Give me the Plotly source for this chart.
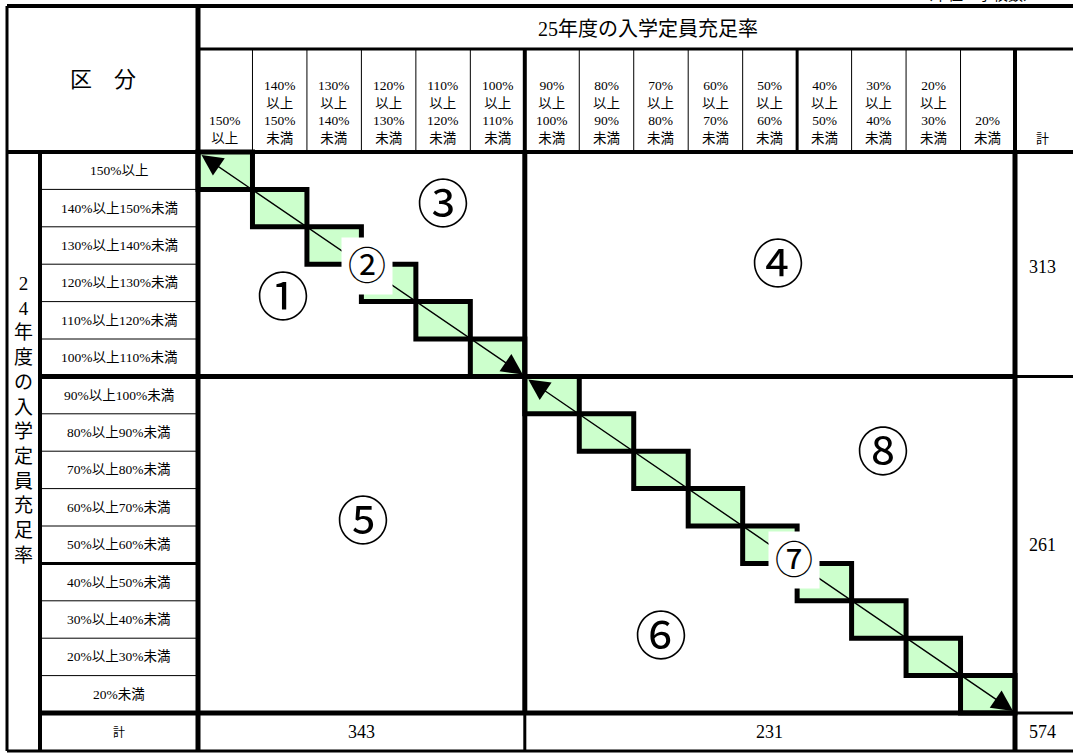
import plotly.graph_objects as go

# ---------------- data ----------------
title_25 = "25年度の入学定員充足率"
title_24 = "24年度の入学定員充足率"
header_kubun = "区　分"
unit_note = "（単位：学校数）"
total_label = "計"

col_labels = [
    "150%<br>以上",
    "140%<br>以上<br>150%<br>未満",
    "130%<br>以上<br>140%<br>未満",
    "120%<br>以上<br>130%<br>未満",
    "110%<br>以上<br>120%<br>未満",
    "100%<br>以上<br>110%<br>未満",
    "90%<br>以上<br>100%<br>未満",
    "80%<br>以上<br>90%<br>未満",
    "70%<br>以上<br>80%<br>未満",
    "60%<br>以上<br>70%<br>未満",
    "50%<br>以上<br>60%<br>未満",
    "40%<br>以上<br>50%<br>未満",
    "30%<br>以上<br>40%<br>未満",
    "20%<br>以上<br>30%<br>未満",
    "20%<br>未満",
]
row_labels = [
    "150%以上", "140%以上150%未満", "130%以上140%未満", "120%以上130%未満",
    "110%以上120%未満", "100%以上110%未満", "90%以上100%未満", "80%以上90%未満",
    "70%以上80%未満", "60%以上70%未満", "50%以上60%未満", "40%以上50%未満",
    "30%以上40%未満", "20%以上30%未満", "20%未満",
]
row_totals = [313, 261]       # 24年度 100%以上 / 100%未満
col_totals = [343, 231]       # 25年度 100%以上 / 100%未満
grand_total = 574
split_index = 6               # 100%以上 groups = first 6 categories

region_labels = ["①", "②", "③", "④", "⑤", "⑥", "⑦", "⑧"]
# positions in (column units, row units)
region_pos = [(1.56, 3.9), (3.1, 3.05), (4.5, 1.42), (10.65, 3.02),
              (3.03, 9.9), (8.5, 12.97), (10.95, 10.9), (12.58, 8.05)]
region_small = [False, True, False, False, False, False, True, False]

# ---------------- geometry ----------------
W, H = 1073, 754
LEFT, TOP, RIGHT, BOTTOM = 7, 6, 1073, 751
VCOL = 40          # right edge of vertical-title column
X0, X1 = 198, 1015  # grid columns
Y0, Y1 = 152, 713   # grid rows
YH = 49            # header split
n = len(col_labels)
CW = (X1 - X0) / n
RH = (Y1 - Y0) / len(row_labels)


def cx(i):
    return X0 + i * CW


def ry(j):
    return Y0 + j * RH


SERIF = "Liberation Serif, Noto Sans CJK JP, serif"
GREEN = "#CCFFCC"

shapes = []


def line(x0, y0, x1, y1, w):
    shapes.append(dict(type="line", x0=x0, y0=y0, x1=x1, y1=y1,
                       line=dict(color="black", width=w)))


# green diagonal cells
for i in range(n):
    shapes.append(dict(type="rect", x0=cx(i), x1=cx(i + 1), y0=ry(i), y1=ry(i + 1),
                       fillcolor=GREEN, line=dict(width=0)))

# thin grid lines: header column dividers and row label dividers
for i in range(1, n):
    line(cx(i), YH, cx(i), Y0, 1)
for j in range(1, len(row_labels)):
    line(VCOL, ry(j), X0, ry(j), 1)
line(VCOL, ry(11), X0, ry(11), 3)
line(cx(11), YH, cx(11), Y0, 3)

# outer frame & headers
line(LEFT, TOP, RIGHT, TOP, 4)
line(LEFT, TOP, LEFT, BOTTOM, 3)
line(LEFT, BOTTOM, RIGHT, BOTTOM, 3)
line(X0, YH, RIGHT, YH, 3)
line(LEFT, Y0, RIGHT, Y0, 4)
line(VCOL, Y0, VCOL, BOTTOM, 4)

# block boundaries
line(X0, TOP, X0, BOTTOM, 5)
line(cx(split_index), YH, cx(split_index), Y0, 4)
line(cx(split_index), Y0, cx(split_index), Y1, 5)
line(cx(split_index), Y1, cx(split_index), BOTTOM, 3)
line(X1, YH, X1, Y0, 4)
line(X1, Y0, X1, BOTTOM, 5)
line(VCOL, ry(split_index), X1, ry(split_index), 5)
line(X1, ry(split_index), RIGHT, ry(split_index), 3)
line(VCOL, Y1, X1, Y1, 5)
line(X1, Y1, RIGHT, Y1, 3)

# staircase outlines around diagonal cells
for i in range(n):
    shapes.append(dict(type="rect", x0=cx(i), x1=cx(i + 1), y0=ry(i), y1=ry(i + 1),
                       line=dict(color="black", width=5)))

annotations = []


def text(x, y, t, size, xanchor="center", yanchor="middle", family=SERIF, **kw):
    annotations.append(dict(x=x, y=y, xref="x", yref="y", text=t, showarrow=False,
                            xanchor=xanchor, yanchor=yanchor,
                            font=dict(family=family, size=size, color="black"), **kw))


# arrows along the diagonal of each block
for (a, b) in [(0, split_index), (split_index, n)]:
    annotations.append(dict(x=cx(b) - 2, y=ry(b) - 2, ax=cx(a) + 2, ay=ry(a) + 2,
                            xref="x", yref="y", axref="x", ayref="y", text="",
                            showarrow=True, arrowhead=2, startarrowhead=2,
                            arrowside="end+start", arrowsize=3, startarrowsize=3,
                            arrowwidth=1.4, arrowcolor="black"))

# headers
text(978, 5, unit_note, 15, yanchor="bottom")
text((LEFT + X0) / 2, (TOP + Y0) / 2, header_kubun, 22)
text(648, (TOP + YH) / 2 + 1, title_25, 20)
for i, lab in enumerate(col_labels):
    text(cx(i + 0.5), Y0 - 4, lab, 13.5, yanchor="bottom")
text((X1 + RIGHT) / 2 - 2, Y0 - 4, total_label, 13, yanchor="bottom")

# row labels
for j, lab in enumerate(row_labels):
    text((VCOL + X0) / 2, ry(j + 0.5), lab, 13.5)
text((VCOL + X0) / 2, (Y1 + BOTTOM) / 2, total_label, 12)

# vertical title
vt = "<br>".join(list(title_24))
text((LEFT + VCOL) / 2, 419, vt, 19)

# totals
tot_x = (X1 + RIGHT) / 2 - 2
text(tot_x, (Y0 + ry(split_index)) / 2 + 3, str(row_totals[0]), 18)
text(tot_x, (ry(split_index) + Y1) / 2, str(row_totals[1]), 18)
text((X0 + cx(split_index)) / 2, (Y1 + BOTTOM) / 2, str(col_totals[0]), 18)
text((cx(split_index) + X1) / 2, (Y1 + BOTTOM) / 2, str(col_totals[1]), 18)
text(tot_x, (Y1 + BOTTOM) / 2, str(grand_total), 18)

# region labels
CIRC = "DejaVu Serif, Noto Sans CJK JP, serif"
for lab, (pc, pr), small in zip(region_labels, region_pos, region_small):
    if small:
        text(cx(pc), ry(pr), lab, 38, family=CIRC, bgcolor="white", borderpad=6)
    else:
        text(cx(pc), ry(pr), lab, 52, family=CIRC)

fig = go.Figure()
fig.update_layout(
    width=W, height=H, margin=dict(l=0, r=0, t=0, b=0),
    paper_bgcolor="white", plot_bgcolor="white",
    xaxis=dict(range=[0, W], visible=False, fixedrange=True),
    yaxis=dict(range=[H, 0], visible=False, fixedrange=True),
    shapes=shapes, annotations=annotations, showlegend=False,
)
fig.write_html("out.html", config={"displayModeBar": False},
               post_script="document.body.style.margin='0';")
